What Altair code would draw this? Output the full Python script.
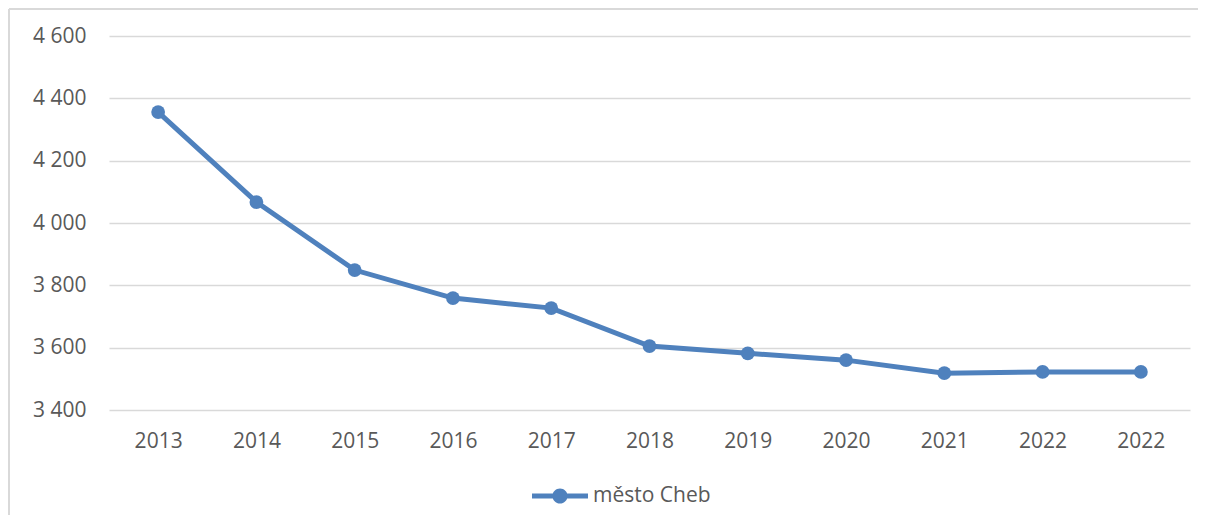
import altair as alt
import pandas as pd

# Data
years = ["2013", "2014", "2015", "2016", "2017", "2018", "2019", "2020", "2021", "2022", "2022"]
values = [4356, 4067, 3849, 3759, 3727, 3605, 3582, 3560, 3518, 3522, 3522]
series = "město Cheb"
y_ticks = [3400, 3600, 3800, 4000, 4200, 4400, 4600]

df = pd.DataFrame({"idx": list(range(len(years))), "year": years, "value": values, "series": series})

BLUE = "#4f81bd"
GRID = "#d9d9d9"
TXT = "#595959"
FONT = "Open Sans"
FS = 21

label_arr = "[" + ",".join("'" + y + "'" for y in years) + "]"

x_enc = alt.X("idx:O", scale=alt.Scale(type="point", padding=0.5),
              axis=alt.Axis(title=None, labelExpr=label_arr + "[datum.value]", labelAngle=0,
                            ticks=False, domain=False, labelPadding=20,
                            labelFontSize=FS, labelColor=TXT, labelFont=FONT))
y_enc = alt.Y("value:Q", scale=alt.Scale(domain=[3400, 4600], nice=False, zero=False),
              axis=alt.Axis(title=None, values=y_ticks, ticks=False, domain=False,
                            labelExpr="replace(format(datum.value, ','), ',', ' ')",
                            labelPadding=23, labelFontSize=FS, labelColor=TXT, labelFont=FONT,
                            grid=True, gridColor=GRID, gridWidth=1.5))

line = alt.Chart(df).mark_line(strokeWidth=5, color=BLUE).encode(x=x_enc, y=y_enc)

legend_path = ("M-1,-0.09H1V0.09H-1Z "
               "M0.27,0A0.27,0.27 0 1,1 -0.27,0A0.27,0.27 0 1,1 0.27,0Z")

points = alt.Chart(df).mark_point(filled=True, size=190, opacity=1).encode(
    x=x_enc, y=y_enc,
    color=alt.Color("series:N", scale=alt.Scale(range=[BLUE]),
                    legend=alt.Legend(title=None, orient="none", legendX=422, legendY=431,
                                      symbolType=legend_path, symbolSize=3136,
                                      labelFontSize=FS, labelColor=TXT, labelFont=FONT,
                                      labelOffset=4, padding=0)),
)

border_v = alt.Chart(df).mark_rule(color=GRID, strokeWidth=1.5).encode(
    x=alt.value(-100), y=alt.value(-27), y2=alt.value(479))
border_h = alt.Chart(df).mark_rule(color=GRID, strokeWidth=1.5).encode(
    x=alt.value(-100), x2=alt.value(1089), y=alt.value(-27))

chart = alt.layer(border_v, border_h, line, points).properties(
    width=1081, height=374, padding=0
).configure(background="white", view=alt.ViewConfig(strokeWidth=0, stroke="transparent"))

chart.save("out.html", embed_options={"renderer": "svg", "actions": False})
